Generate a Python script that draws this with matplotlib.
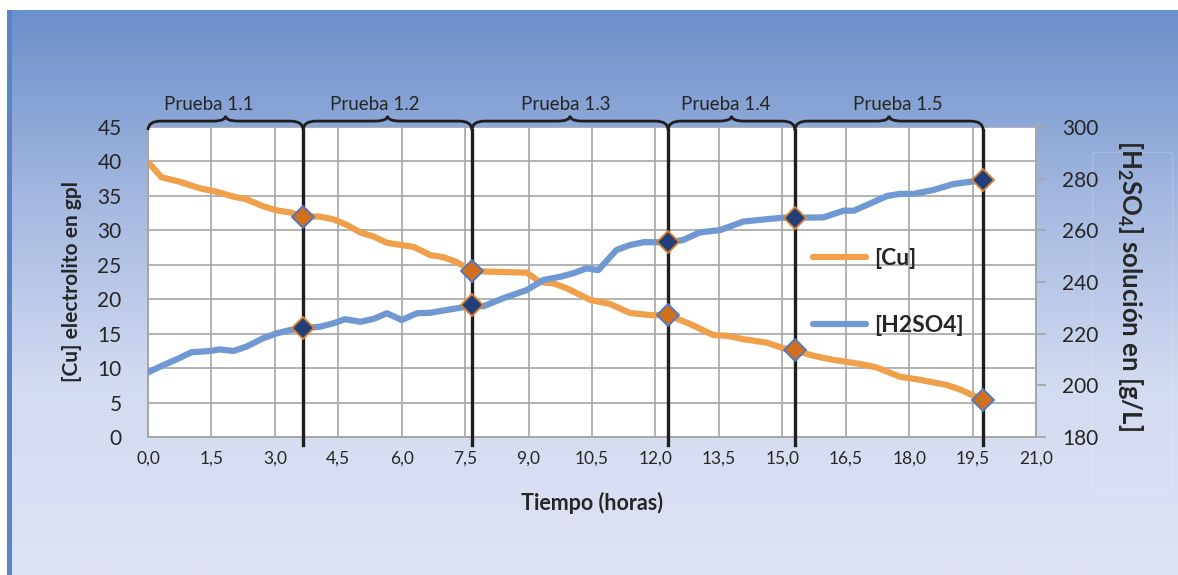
import numpy as np
import matplotlib
matplotlib.use("Agg")
import matplotlib.pyplot as plt
from matplotlib.path import Path
from matplotlib.patches import PathPatch, Rectangle
from matplotlib.colors import LinearSegmentedColormap
import matplotlib.transforms as mtransforms

plt.rcParams['font.family'] = ['Lato', 'DejaVu Sans']
plt.rcParams['mathtext.fontset'] = 'custom'
plt.rcParams['mathtext.rm'] = 'Lato:bold'
plt.rcParams['mathtext.bf'] = 'Lato:bold'

# datos
t_cu = [0, 0.32, 0.72, 1.23, 1.62, 2.02, 2.33, 2.72, 3.04, 3.36, 3.67, 4.07, 4.38, 4.70,
        5.02, 5.33, 5.65, 5.96, 6.28, 6.68, 6.99, 7.30, 7.66, 8.09, 8.96, 9.27, 9.59, 9.90,
        10.46, 10.93, 11.40, 11.87, 12.30, 12.82, 13.37, 13.69, 14.08, 14.63, 15.02, 15.30,
        15.73, 16.20, 16.84, 17.23, 17.78, 18.26, 18.89, 19.20, 19.75]
cu = [39.9, 37.7, 37.1, 36.1, 35.6, 34.9, 34.5, 33.5, 32.9, 32.6, 32.0, 32.0, 31.6, 30.8,
      29.7, 29.1, 28.2, 27.9, 27.6, 26.4, 26.1, 25.4, 24.1, 24.0, 23.85, 22.5, 22.3, 21.6,
      19.9, 19.3, 18.0, 17.7, 17.7, 16.4, 14.8, 14.7, 14.2, 13.7, 12.9, 12.6,
      11.8, 11.2, 10.6, 10.1, 8.75, 8.3, 7.55, 6.9, 5.4]

t_h2so4 = [0, 0.28, 0.68, 1.03, 1.47, 1.70, 2.02, 2.33, 2.72, 3.04, 3.36, 3.67, 4.07, 4.38,
           4.66, 5.02, 5.33, 5.65, 6.0, 6.36, 6.68, 7.07, 7.38, 7.66, 7.93, 8.40, 8.96, 9.35,
           9.74, 10.06, 10.37, 10.65, 11.08, 11.40, 11.72, 12.11, 12.30, 12.66, 13.05, 13.53,
           14.08, 14.63, 15.02, 15.30, 15.97, 16.45, 16.69, 17.0, 17.48, 17.78, 18.1, 18.57,
           19.04, 19.44, 19.75]
h2so4 = [205.0, 207.2, 210.1, 212.8, 213.3, 213.9, 213.3, 215.0, 218.2, 220.1, 221.4, 222.1,
         222.7, 224.0, 225.6, 224.6, 225.7, 227.9, 225.3, 227.9, 228.1, 229.2, 230.0, 231.0,
         230.6, 233.7, 236.9, 240.8, 242.0, 243.4, 245.3, 244.6, 252.4, 254.3, 255.4, 255.4,
         255.3, 256.3, 259.2, 260.1, 263.4, 264.3, 264.9, 264.9, 265.0, 267.6, 267.6, 269.8,
         273.3, 274.1, 274.1, 275.6, 277.9, 278.8, 279.5]

# fin de cada prueba
limites = [3.67, 7.66, 12.30, 15.30, 19.75]
cu_marcas = [32.0, 24.1, 17.7, 12.6, 5.4]
h2so4_marcas = [222.1, 231.0, 255.3, 264.9, 279.5]
pruebas = ['Prueba 1.1', 'Prueba 1.2', 'Prueba 1.3', 'Prueba 1.4', 'Prueba 1.5']

x_ticks = np.arange(0, 21.01, 1.5)
x_labels = [f'{v:.1f}'.replace('.', ',') for v in x_ticks]

W, H = 1178, 575
fig = plt.figure(figsize=(W / 100, H / 100), dpi=100)
fig.patch.set_facecolor('white')

# fondo degradado
bg = fig.add_axes([12 / W, 0, 1 - 12 / W, 1 - 10 / H], zorder=-10)
cmap = LinearSegmentedColormap.from_list('fondo', ['#6B8FCA', '#A4B8E0', '#D3DBF0', '#DEE3F4'])
grad = np.linspace(0, 1, 256).reshape(-1, 1)
bg.imshow(grad, aspect='auto', cmap=cmap, extent=[0, 1, 0, 1])
bg.add_patch(Rectangle(((1092 - 12) / (W - 12), 1 - 480 / (H - 10)),
                       80 / (W - 12), 338 / (H - 10), transform=bg.transAxes,
                       fill=False, ec='white', lw=0.8, alpha=0.18))
bg.set_xlim(0, 1)
bg.set_ylim(0, 1)
bg.axis('off')
strip = fig.add_axes([7 / W, 0, 5 / W, 1 - 10 / H], zorder=-9)
strip.set_facecolor('#5E83C4')
strip.set_xticks([])
strip.set_yticks([])
for s in strip.spines.values():
    s.set_visible(False)

L, R, T, B = 148, 1036, 127, 437
ax = fig.add_axes([L / W, 1 - B / H, (R - L) / W, (B - T) / H])
ax.set_facecolor('white')
ax2 = ax.twinx()

ax.set_xlim(0, 21)
ax.set_ylim(0, 45)
ax2.set_ylim(180, 300)
ax.set_xticks(x_ticks)
ax.set_xticklabels(x_labels, fontsize=12.5, color='#262626')
ax.set_yticks(np.arange(0, 46, 5))
ax.tick_params(axis='y', length=0, pad=19, labelsize=15, colors='#262626')
ax.tick_params(axis='x', length=0, pad=10)
ax2.set_yticks(np.arange(180, 301, 20))
ax2.tick_params(axis='y', direction='out', length=7, width=1.3, color='#A6A6A6',
                pad=12, labelsize=15, labelcolor='#262626')

ax.grid(True, color='#A6A6A6', lw=1.2)
ax.set_axisbelow(True)
for a in (ax, ax2):
    for s in a.spines.values():
        s.set_color('#A6A6A6')
        s.set_linewidth(1.3)
    a.spines['top'].set_visible(False)

naranja = '#F0A04B'
azul = '#7098D2'
ax.plot(t_cu, cu, color=naranja, lw=4.5, solid_joinstyle='round', solid_capstyle='round',
        label='[Cu]', zorder=3)
ax2.plot(t_h2so4, h2so4, color=azul, lw=4.5, solid_joinstyle='round', solid_capstyle='round',
         label='[H2SO4]', zorder=3)

# lineas verticales de fin de prueba
trans = mtransforms.blended_transform_factory(ax.transData, ax.transAxes)
for xl in limites:
    ax2.plot([xl, xl], [-0.026, 0.99], transform=trans, color='#1E1E1E', lw=2.4,
             clip_on=False, zorder=4)

ax2.plot(limites, cu_marcas, transform=ax.transData, ls='none', marker='D', ms=11,
         mfc='#D0701F', mec='#4A76C6', mew=1.3, zorder=5, clip_on=False)
ax2.plot(limites, h2so4_marcas, ls='none', marker='D', ms=11,
         mfc='#203F7B', mec='#D9842D', mew=1.3, zorder=5, clip_on=False)

# llaves de cada prueba
inicios = [0] + limites[:-1]
desplaz = [-0.4, -0.3, -0.1, -0.13, 0.2]
yb, ym, yc = 0.99, 1.019, 1.036
r = 0.3
for x0, x1, nombre, dx in zip(inicios, limites, pruebas, desplaz):
    mid = (x0 + x1) / 2
    verts = [(x0, yb), (x0, ym), (x0 + r, ym),
             (mid - r, ym), (mid, ym), (mid, yc),
             (mid, ym), (mid + r, ym),
             (x1 - r, ym), (x1, ym), (x1, yb)]
    codes = [Path.MOVETO, Path.CURVE3, Path.CURVE3,
             Path.LINETO, Path.CURVE3, Path.CURVE3,
             Path.CURVE3, Path.CURVE3,
             Path.LINETO, Path.CURVE3, Path.CURVE3]
    ax2.add_patch(PathPatch(Path(verts, codes), transform=trans, fill=False,
                            ec='#1E1E1E', lw=2.0, clip_on=False, zorder=4))
    ax2.text(mid + dx, 1.045, nombre, transform=trans, ha='center', va='bottom',
             fontsize=13.5, color='#262626')

ax.set_xlabel('Tiempo (horas)', fontsize=15.5, fontweight='bold', color='#262626', labelpad=18)
ax.set_ylabel('[Cu] electrolito en gpl', fontsize=15, fontweight='bold', color='#262626')
ax.yaxis.set_label_coords(-0.074, 0.5)
ax2.set_ylabel(r'[H$_{\mathbf{2}}$SO$_{\mathbf{4}}$] solución en [g/L]', fontsize=18.5,
               fontweight='bold', color='#262626', rotation=270)
ax2.yaxis.set_label_coords(1.122, 0.49)

h1, l1 = ax.get_legend_handles_labels()
h2, l2 = ax2.get_legend_handles_labels()
leg = ax2.legend(h1 + h2, l1 + l2, loc='center left', bbox_to_anchor=(0.749, 0.468),
                 frameon=False, fontsize=16.5, handlelength=2.3, handletextpad=0.35,
                 labelspacing=2.0, borderpad=0, borderaxespad=0)
for txt in leg.get_texts():
    txt.set_fontweight('bold')
    txt.set_color('#262626')

fig.savefig('out.png', dpi=100)
